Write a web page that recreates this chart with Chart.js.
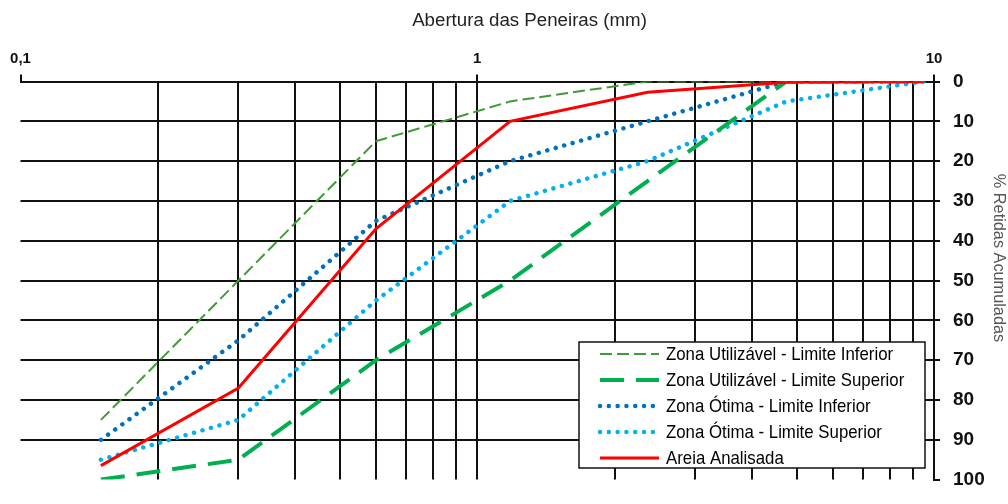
<!DOCTYPE html>
<html>
<head>
<meta charset="utf-8">
<script src="https://cdn.jsdelivr.net/npm/chart.js@4.4.1/dist/chart.umd.min.js"></script>
<style>
  html, body { margin: 0; padding: 0; background: #ffffff; }
  #wrap { width: 1008px; height: 504px; }
</style>
</head>
<body>
<div id="wrap"><canvas id="granulometria" width="1008" height="504"></canvas></div>
<script>
// Aberturas das peneiras (mm)
const sieveSizes = [0.15, 0.3, 0.6, 1.18, 2.36, 4.75, 9.5];

// % retidas acumuladas em cada peneira
const utilInferior  = [85, 50, 15, 5, 0, 0, 0];
const utilSuperior  = [100, 95, 70, 50, 25, 0, 0];
const otimaInferior = [90, 65, 35, 20, 10, 0, 0];
const otimaSuperior = [95, 85, 55, 30, 20, 5, 0];
const areiaAnalisada = [96.5, 77, 37, 10, 2.7, 0.2, 0];

const seriesLabels = [
  'Zona Utilizável - Limite Inferior',
  'Zona Utilizável - Limite Superior',
  'Zona Ótima - Limite Inferior',
  'Zona Ótima - Limite Superior',
  'Areia Analisada'
];

// Linhas de grade do eixo logarítmico e rótulos das décadas
const xGridValues = [0.1, 0.2, 0.3, 0.4, 0.5, 0.6, 0.7, 0.8, 0.9, 1, 2, 3, 4, 5, 6, 7, 8, 9, 10];
const xLabelValues = [0.1, 1, 10];
const xLabelTexts = ['0,1', '1', '10'];
const yTickValues = [0, 10, 20, 30, 40, 50, 60, 70, 80, 90, 100];

const xTitle = 'Abertura das Peneiras (mm)';
const yTitle = '% Retidas Acumuladas';

const SANS = "'Liberation Sans', Arial, sans-serif";
const INK = '#111111';
const NONE = 'rgba(0,0,0,0)';

const toPoints = (vals) => sieveSizes.map((x, i) => ({ x: x, y: vals[i] }));

const styles = [
  { borderColor: '#3f9c35', borderWidth: 2,   borderDash: [12, 5] },
  { borderColor: '#00b050', borderWidth: 4,   borderDash: [24, 12] },
  { borderColor: '#0070c0', borderWidth: 4.5, borderDash: [0.01, 8.8], borderCapStyle: 'round' },
  { borderColor: '#00b0f0', borderWidth: 4.5, borderDash: [0.01, 8.8], borderCapStyle: 'round' },
  { borderColor: '#ff0000', borderWidth: 3 }
];
const seriesValues = [utilInferior, utilSuperior, otimaInferior, otimaSuperior, areiaAnalisada];

const datasets = seriesValues.map((vals, i) => Object.assign({
  label: seriesLabels[i],
  data: toPoints(vals),
  pointRadius: 0,
  fill: false,
  tension: 0,
  order: i === 4 ? 0 : i + 1
}, styles[i]));

// Caixa de legenda dentro da área do gráfico
const legendBox = {
  id: 'legendBox',
  afterDatasetsDraw(chart, args, o) {
    const ctx = chart.ctx;
    ctx.save();
    ctx.fillStyle = '#ffffff';
    ctx.fillRect(o.left, o.top, o.width, o.height);
    ctx.strokeStyle = INK;
    ctx.lineWidth = 1.5;
    ctx.strokeRect(o.left, o.top, o.width, o.height);
    chart.data.datasets.forEach((ds, i) => {
      const y = o.top + o.firstRow + i * o.rowGap;
      ctx.beginPath();
      ctx.setLineDash(ds.borderDash || []);
      ctx.lineCap = ds.borderCapStyle || 'butt';
      ctx.lineWidth = ds.borderWidth;
      ctx.strokeStyle = ds.borderColor;
      ctx.moveTo(o.sampleX1, y);
      ctx.lineTo(o.sampleX2, y);
      ctx.stroke();
      ctx.setLineDash([]);
      // texto estreito: fonte normal comprimida na horizontal
      ctx.save();
      ctx.translate(o.textX, y + 1);
      ctx.scale(o.textScaleX, 1);
      ctx.fillStyle = '#000000';
      ctx.font = o.font;
      ctx.textAlign = 'left';
      ctx.textBaseline = 'middle';
      ctx.fillText(ds.label, 0, 0);
      ctx.restore();
    });
    ctx.restore();
  }
};

// Títulos dos eixos
const axisTitles = {
  id: 'axisTitles',
  afterDraw(chart) {
    const ctx = chart.ctx;
    ctx.save();
    ctx.fillStyle = '#222222';
    ctx.font = '18.7px ' + SANS;
    ctx.textAlign = 'center';
    ctx.textBaseline = 'middle';
    ctx.fillText(xTitle, 529.5, 21);
    ctx.translate(998, 258);
    ctx.rotate(Math.PI / 2);
    ctx.fillStyle = '#555555';
    ctx.font = '16.3px ' + SANS;
    ctx.fillText(yTitle, 0, 0);
    ctx.restore();
  }
};

new Chart(document.getElementById('granulometria'), {
  type: 'line',
  data: { datasets: datasets },
  plugins: [legendBox, axisTitles],
  options: {
    responsive: false,
    animation: false,
    devicePixelRatio: 1,
    layout: { padding: { left: 20.5, right: 0, top: 0, bottom: 9 } },
    plugins: {
      legend: { display: false },
      tooltip: { enabled: false },
      legendBox: {
        left: 579, top: 342, width: 346, height: 126,
        firstRow: 12, rowGap: 26,
        sampleX1: 600, sampleX2: 659, textX: 666,
        font: '19px ' + SANS, textScaleX: 0.885
      }
    },
    scales: {
      x: {
        type: 'logarithmic',
        position: 'top',
        min: 0.1,
        max: 10,
        afterBuildTicks: (s) => { s.ticks = xGridValues.map(v => ({ value: v })); },
        afterFit: (s) => { s.height = 81.5; },
        ticks: {
          autoSkip: false,
          maxRotation: 0,
          padding: 7,
          color: INK,
          font: { family: SANS, size: 15, weight: 'bold' },
          callback: (v) => {
            const k = xLabelValues.indexOf(v);
            return k >= 0 ? xLabelTexts[k] : '';
          }
        },
        grid: {
          lineWidth: 2,
          tickLength: 7,
          color: (c) => (c.tick && c.tick.value === 0.1) ? NONE : INK,
          tickColor: (c) => (c.tick && xLabelValues.indexOf(c.tick.value) >= 0) ? INK : NONE
        },
        border: { display: true, color: INK, width: 2 }
      },
      y: {
        position: 'right',
        reverse: true,
        min: 0,
        max: 100,
        afterBuildTicks: (s) => { s.ticks = yTickValues.map(v => ({ value: v })); },
        afterFit: (s) => { s.width = 74; },
        ticks: {
          padding: 13,
          color: INK,
          font: { family: SANS, size: 19, weight: 'bold' },
          callback: (v) => String(v)
        },
        grid: {
          lineWidth: 2,
          tickLength: 6,
          color: (c) => (c.tick && c.tick.value === 100) ? NONE : INK,
          tickColor: INK
        },
        border: { display: true, color: INK, width: 2 }
      }
    }
  }
});
</script>
</body>
</html>
